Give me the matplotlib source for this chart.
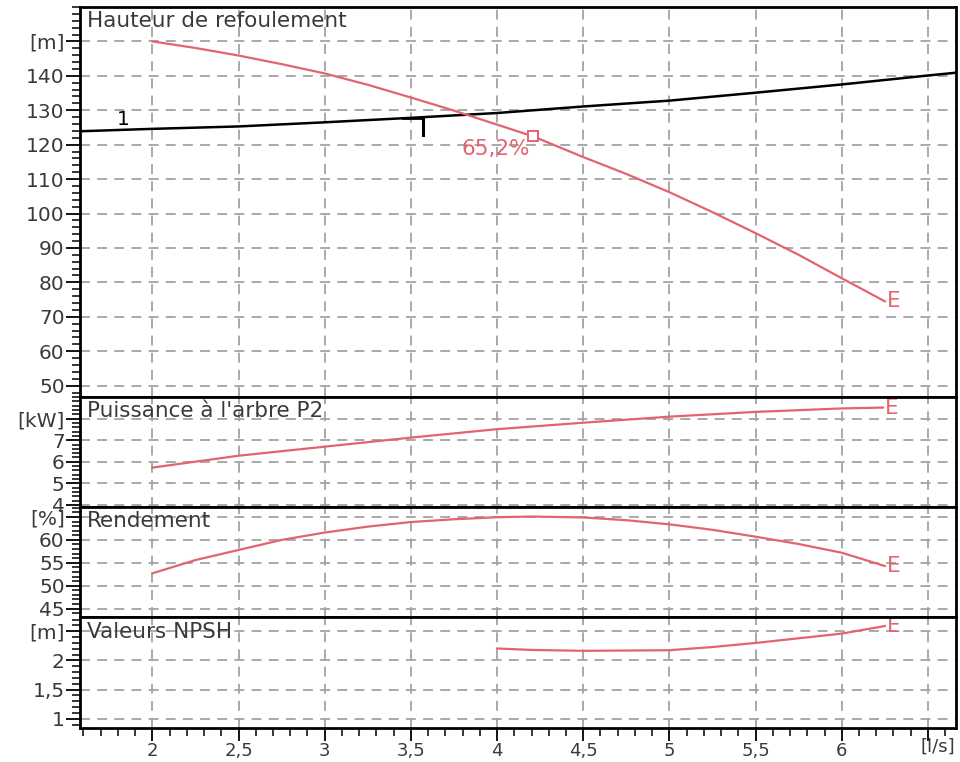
import matplotlib; matplotlib.use("Agg")
import matplotlib.pyplot as plt
from matplotlib.ticker import MultipleLocator, FixedLocator

# --- données ---
q_h = [2, 2.25, 2.5, 2.75, 3, 3.25, 3.5, 3.75, 4.21, 4.5, 4.75, 5, 5.25, 5.5, 5.75, 6, 6.25]
h = [150, 148.1, 145.9, 143.4, 140.7, 137.4, 133.7, 129.9, 122.4, 116.4, 111.5, 106.2, 100.4,
     94.3, 88.0, 81.2, 74.5]
q_sys = [1.58, 2, 2.5, 3, 3.5, 4, 4.5, 5, 5.5, 6, 6.5, 6.66]
h_sys = [123.9, 124.6, 125.3, 126.5, 127.8, 129.2, 131.1, 132.8, 135.1, 137.5, 140.1, 140.9]
q_pt, h_pt, eta_pt = 4.21, 122.4, "65,2%"          # meilleur rendement
q_duty, h_duty, h_duty_low = 3.572, 127.7, 122.9   # point de fonctionnement
q_p2 = [2, 2.5, 3, 3.5, 4, 4.5, 5, 5.5, 6, 6.24]
p2 = [5.73, 6.28, 6.70, 7.12, 7.51, 7.81, 8.09, 8.31, 8.47, 8.51]
q_eta = [2, 2.25, 2.5, 2.75, 3, 3.25, 3.5, 3.75, 4, 4.2, 4.5, 4.75, 5, 5.25, 5.5, 5.75, 6, 6.25]
eta = [52.7, 55.6, 57.8, 60.0, 61.6, 62.9, 63.9, 64.5, 64.95, 65.1, 64.9, 64.3, 63.4, 62.2,
       60.7, 59.1, 57.2, 54.3]
q_npsh = [4.0, 4.2, 4.5, 5.0, 5.25, 5.5, 6.0, 6.25]
npsh = [2.205, 2.18, 2.165, 2.175, 2.23, 2.30, 2.46, 2.59]

titles = ["Hauteur de refoulement", "Puissance à l'arbre P2", "Rendement", "Valeurs NPSH"]
yticks = [[150, 140, 130, 120, 110, 100, 90, 80, 70, 60, 50], [8, 7, 6, 5, 4],
          [65, 60, 55, 50, 45], [2.5, 2, 1.5, 1]]
ylabels = [["[m]", "140", "130", "120", "110", "100", "90", "80", "70", "60", "50"],
           ["[kW]", "7", "6", "5", "4"], ["[%]", "60", "55", "50", "45"], ["[m]", "2", "1,5", "1"]]
xticks = [2, 2.5, 3, 3.5, 4, 4.5, 5, 5.5, 6, 6.5]
xlabels = ["2", "2,5", "3", "3,5", "4", "4,5", "5", "5,5", "6", ""]

RED, GRID, TXT = "#e3646f", "#a3a3a3", "#3a3a3a"
W, H = 960, 762
# bords des panneaux en pixels (haut, bas)
bands = [(7, 397), (397, 506.7), (506.7, 617.3), (617.3, 727.7)]
ylims = [(46.7, 160), (3.92, 9.0), (43.1, 67.25), (0.846, 2.74)]
minors = [2, 0.2, 1, 0.1]
FS = 14.5

fig = plt.figure(figsize=(W / 100, H / 100), dpi=100)
axes = []
for i, (top, bot) in enumerate(bands):
    ax = fig.add_axes([80 / W, 1 - bot / H, 875.5 / W, (bot - top) / H])
    ax.set_xlim(1.58, 6.66); ax.set_ylim(*ylims[i])
    ax.xaxis.set_major_locator(FixedLocator(xticks)); ax.xaxis.set_minor_locator(MultipleLocator(0.1))
    ax.yaxis.set_major_locator(FixedLocator(yticks[i])); ax.yaxis.set_minor_locator(MultipleLocator(minors[i]))
    ax.set_yticklabels(ylabels[i])
    ax.grid(True, which="major", ls=(0, (5.5, 4)), color=GRID, lw=1.3)
    ax.tick_params(axis="y", which="major", length=10, width=1.3, labelsize=FS, labelcolor=TXT, pad=1)
    ax.tick_params(axis="y", which="minor", length=6, width=1.1)
    if i < 3:
        ax.tick_params(axis="x", which="both", length=0, labelbottom=False)
    for s in ax.spines.values():
        s.set_linewidth(2); s.set_zorder(5)
    ax.text(0.008, 0.99 if i == 0 else 0.96, titles[i], transform=ax.transAxes, ha="left", va="top",
            fontsize=15.5, color=TXT)
    axes.append(ax)
ax1, ax2, ax3, ax4 = axes

# hauteur + courbe du réseau
ax1.plot(q_sys, h_sys, color="black", lw=1.8)
ax1.plot(q_h, h, color=RED, lw=1.6)
ax1.plot([q_duty - 0.12, q_duty], [h_duty, h_duty], color="black", lw=2)
ax1.plot([q_duty, q_duty], [h_duty, h_duty_low], color="black", lw=2.2)
ax1.plot([q_pt], [h_pt], marker="s", ms=7, mfc="white", mec=RED, mew=1.4)
ax1.text(q_pt - 0.02, h_pt - 3.6, eta_pt, color=RED, fontsize=15.5, ha="right", va="center")
ax1.text(1.83, 127.3, "1", color="black", fontsize=FS, ha="center", va="center")

ax2.plot(q_p2, p2, color=RED, lw=1.6)
ax3.plot(q_eta, eta, color=RED, lw=1.6)
ax4.plot(q_npsh, npsh, color=RED, lw=1.6)

# repère E en fin de courbe
for ax, qq, yy in [(ax1, q_h, h), (ax2, q_p2, p2), (ax3, q_eta, eta), (ax4, q_npsh, npsh)]:
    ax.text(qq[-1] + 0.01, yy[-1], "E", color=RED, fontsize=15.5, ha="left", va="center")

ax4.set_xticklabels(xlabels)
ax4.tick_params(axis="x", which="major", length=9, width=1.3, labelsize=13, labelcolor=TXT, pad=1)
ax4.tick_params(axis="x", which="minor", length=6, width=1.1)
ax4.text(1.0, -0.095, "[l/s]", transform=ax4.transAxes, ha="right", va="top", fontsize=13, color=TXT)

plt.savefig("out.png", dpi=100)
